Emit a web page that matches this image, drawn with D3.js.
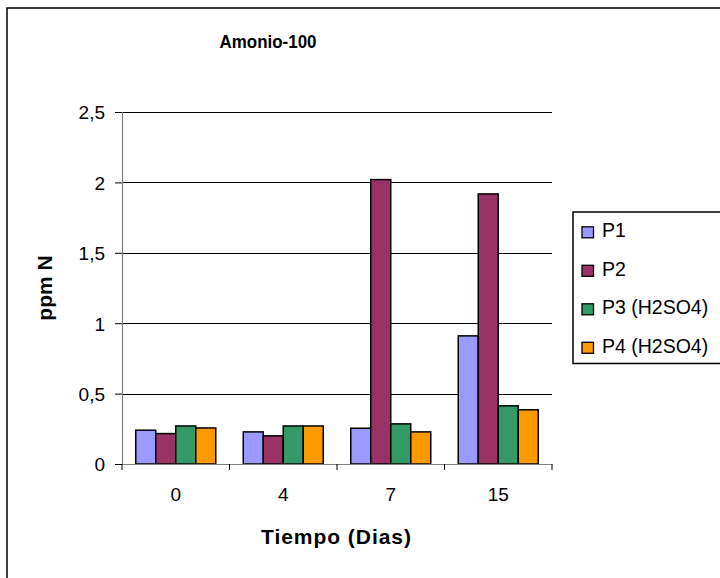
<!DOCTYPE html>
<html>
<head>
<meta charset="utf-8">
<script src="https://cdn.jsdelivr.net/npm/d3@7/dist/d3.min.js"></script>
<style>
  html, body { margin: 0; padding: 0; background: #fff; }
  svg { display: block; font-family: "Liberation Sans", Arial, sans-serif; }
</style>
</head>
<body>
<svg id="chart" width="720" height="578"></svg>
<script>
// Sampling days and series
const categories = ["0", "4", "7", "15"];
const seriesNames = ["P1", "P2", "P3 (H2SO4)", "P4 (H2SO4)"];
const p1 = [0.24, 0.228, 0.254, 0.91];
const p2 = [0.216, 0.20, 2.02, 1.918];
const p3 = [0.27, 0.27, 0.285, 0.413];
const p4 = [0.256, 0.27, 0.228, 0.385];
const yTicks = [0, 0.5, 1, 1.5, 2, 2.5];
const colors = ["#9999FF", "#993366", "#339966", "#FF9900"];

const series = [p1, p2, p3, p4];
const svg = d3.select("#chart");
const FONT = "Liberation Sans, Arial, sans-serif";

// outer chart frame
svg.append("rect")
  .attr("x", 7).attr("y", 8)
  .attr("width", 760).attr("height", 620)
  .attr("fill", "#fff").attr("stroke", "#000").attr("stroke-width", 1.5);

const plot = { left: 122, right: 552, top: 112, bottom: 464 };

const x0 = d3.scaleBand().domain(categories)
  .range([plot.left, plot.right]).paddingInner(0).paddingOuter(0);
const x1 = d3.scaleBand().domain(d3.range(series.length))
  .range([0, x0.bandwidth()]).paddingInner(0).paddingOuter(0.6875);
const y = d3.scaleLinear().domain([0, 2.5]).range([plot.bottom, plot.top]);

// horizontal gridlines
svg.append("g").selectAll("line").data(yTicks.filter(d => d > 0)).join("line")
  .attr("x1", plot.left).attr("x2", plot.right)
  .attr("y1", d => Math.round(y(d)) + 0.5).attr("y2", d => Math.round(y(d)) + 0.5)
  .attr("stroke", "#000").attr("stroke-width", 1);

// bars
const groups = svg.append("g").selectAll("g").data(categories).join("g")
  .attr("transform", c => `translate(${x0(c)},0)`);
groups.selectAll("rect")
  .data((c, i) => series.map((s, k) => ({ k, v: s[i] })))
  .join("rect")
  .attr("x", d => x1(d.k))
  .attr("y", d => y(d.v))
  .attr("width", x1.bandwidth())
  .attr("height", d => y(0) - y(d.v))
  .attr("fill", d => colors[d.k])
  .attr("stroke", "#000").attr("stroke-width", 1.5);

// y axis
const yAxis = d3.axisLeft(y).tickValues(yTicks)
  .tickFormat(d => d3.format("")(d).replace(".", ","))
  .tickSize(7).tickPadding(10);
const gy = svg.append("g").attr("transform", `translate(${plot.left},0)`).call(yAxis);
gy.select(".domain").attr("stroke", "#808080").attr("stroke-width", 1.2);
gy.selectAll(".tick line").attr("stroke", "#000");
gy.selectAll("text").attr("font-size", 19).attr("fill", "#000")
  .attr("font-family", FONT).attr("dy", "0.36em");

// x axis
const xAxis = d3.axisBottom(x0).tickSize(0).tickPadding(24);
const gx = svg.append("g").attr("transform", `translate(0,${plot.bottom})`).call(xAxis);
gx.select(".domain").attr("stroke", "#808080").attr("stroke-width", 1.2);
gx.selectAll("text").attr("font-size", 19).attr("fill", "#000")
  .attr("font-family", FONT);
// category separators
const bounds = categories.map(c => x0(c)).concat([plot.right]);
svg.append("g").selectAll("line").data(bounds).join("line")
  .attr("x1", d => d).attr("x2", d => d)
  .attr("y1", plot.bottom).attr("y2", plot.bottom + 6)
  .attr("stroke", "#000").attr("stroke-width", 1);

// titles
svg.append("text").attr("x", 268).attr("y", 48)
  .attr("text-anchor", "middle").attr("font-size", 18.5).attr("font-weight", "bold")
  .attr("textLength", 97).attr("lengthAdjust", "spacingAndGlyphs")
  .text("Amonio-100");
svg.append("text").attr("x", 336).attr("y", 544)
  .attr("text-anchor", "middle").attr("font-size", 21).attr("font-weight", "bold")
  .attr("textLength", 150).attr("lengthAdjust", "spacing")
  .text("Tiempo (Dias)");
svg.append("text")
  .attr("transform", "translate(52,288) rotate(-90)")
  .attr("text-anchor", "middle").attr("font-size", 21).attr("font-weight", "bold")
  .text("ppm N");

// legend
const legend = svg.append("g").attr("transform", "translate(573,212)");
legend.append("rect").attr("x", 0).attr("y", 0).attr("width", 200).attr("height", 151.5)
  .attr("fill", "#fff").attr("stroke", "#000").attr("stroke-width", 1.5);
const items = legend.selectAll("g.item").data(seriesNames).join("g")
  .attr("class", "item")
  .attr("transform", (d, i) => `translate(0,${20.3 + i * 38.5})`);
items.append("rect").attr("x", 9).attr("y", -5.5).attr("width", 11.5).attr("height", 11)
  .attr("fill", (d, i) => colors[i]).attr("stroke", "#000").attr("stroke-width", 1.3);
items.append("text").attr("x", 29).attr("y", 5).attr("font-size", 19.5)
  .attr("font-family", FONT)
  .text(d => d);
</script>
</body>
</html>
